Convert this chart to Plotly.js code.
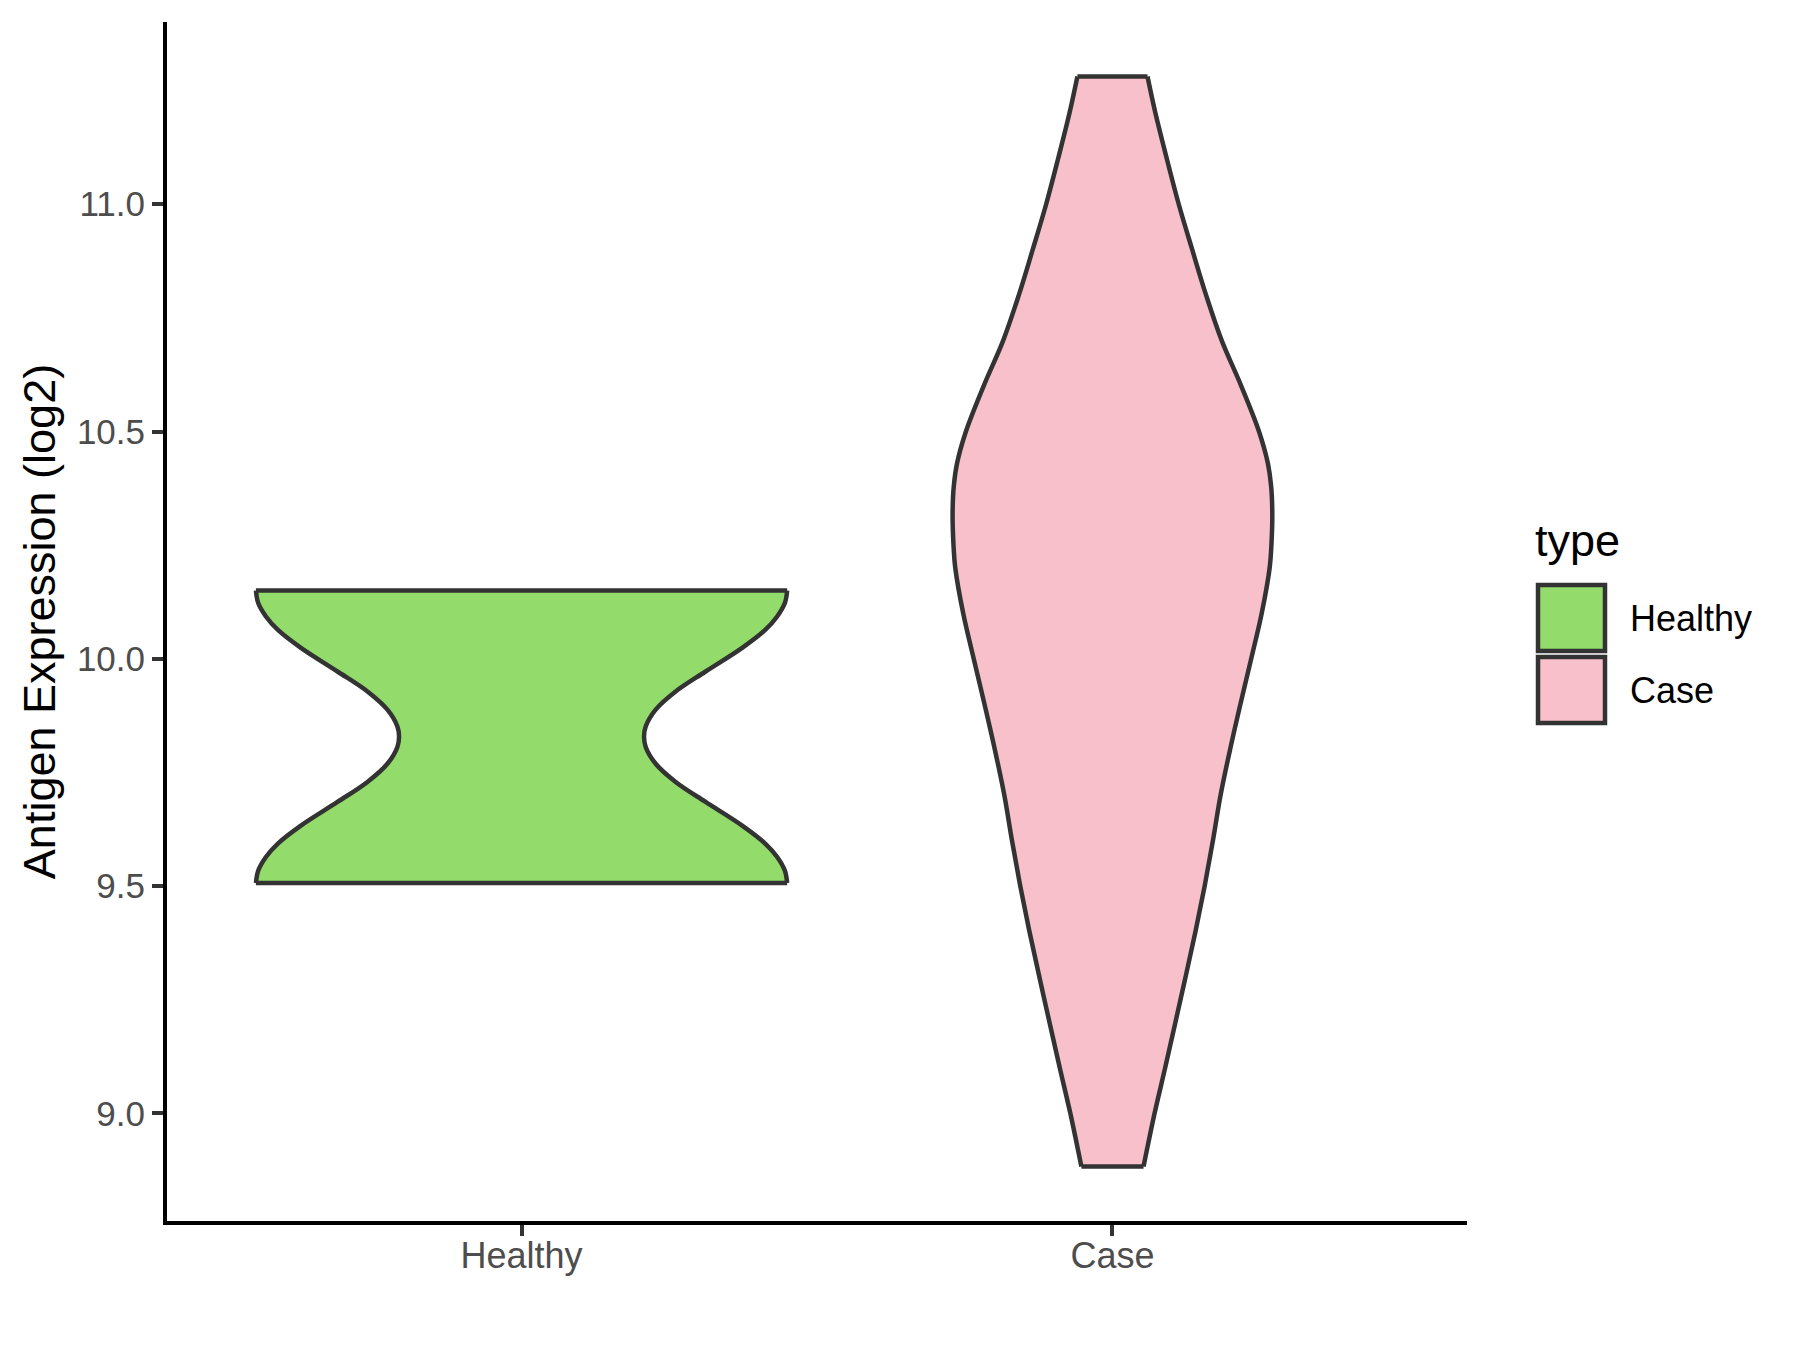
<!DOCTYPE html>
<html>
<head>
<meta charset="utf-8">
<script src="https://cdn.plot.ly/plotly-3.0.1.min.js"></script>
<style>html,body{margin:0;padding:0;background:#fff;}#chart{width:1800px;height:1350px;}</style>
</head>
<body>
<div id="chart"></div>
<script>
// Categories and labels
const categories = ["Healthy", "Case"];
const groupColors = ["#93DB6A", "#F7C0CB"];
const legendTitle = "type";
const yTitle = "Antigen Expression (log2)";
const yTickVals = [9.0, 9.5, 10.0, 10.5, 11.0];
const yTickText = ["9.0", "9.5", "10.0", "10.5", "11.0"];

// Violin outlines: value (log2) and half-width (in category units)
const healthyY = [10.150, 10.1225, 10.093, 10.064, 10.024, 9.972, 9.928, 9.888, 9.851, 9.829,
                  9.806, 9.769, 9.729, 9.685, 9.633, 9.593, 9.564, 9.534, 9.5065];
const healthyHalfWidth = [0.4495, 0.4456, 0.4326, 0.4128, 0.3734, 0.3115, 0.2608, 0.2270, 0.2101, 0.2073,
                          0.2101, 0.2270, 0.2608, 0.3115, 0.3734, 0.4128, 0.4326, 0.4456, 0.4495];

const caseY = [11.281, 11.20, 11.10, 11.00, 10.90, 10.80, 10.70, 10.60, 10.50, 10.43, 10.38, 10.32, 10.25,
               10.20, 10.10, 10.00, 9.90, 9.80, 9.70, 9.60, 9.50, 9.40, 9.30, 9.20, 9.10, 9.00, 8.883];
const caseHalfWidth = [0.0593, 0.0728, 0.0920, 0.1122, 0.1350, 0.1585, 0.1850, 0.2180, 0.2480, 0.2630, 0.2685,
                       0.2705, 0.2690, 0.2660, 0.2526, 0.2348, 0.2165, 0.1990, 0.1830, 0.1700, 0.1560, 0.1405,
                       0.1237, 0.1065, 0.0892, 0.0713, 0.0526];

const outline = "#333333";
const lw = 4.5;
const axisLw = 4;
const font = "Liberation Sans, Arial, Helvetica, sans-serif";

function violinTraces(pos, ys, hws, color) {
  const left = hws.map(w => pos - w);
  const right = hws.map(w => pos + w);
  const n = ys.length;
  return [
    {type: "scatter", mode: "lines", x: left, y: ys,
     line: {color: outline, width: lw, shape: "spline"}, showlegend: false, hoverinfo: "skip"},
    {type: "scatter", mode: "lines", x: right, y: ys, fill: "tonextx", fillcolor: color,
     line: {color: outline, width: lw, shape: "spline"}, showlegend: false, hoverinfo: "skip"},
    {type: "scatter", mode: "lines",
     x: [left[0], right[0], null, left[n - 1], right[n - 1]],
     y: [ys[0], ys[0], null, ys[n - 1], ys[n - 1]],
     line: {color: outline, width: lw}, showlegend: false, hoverinfo: "skip"}
  ];
}

const traces = [].concat(
  violinTraces(1, healthyY, healthyHalfWidth, groupColors[0]),
  violinTraces(2, caseY, caseHalfWidth, groupColors[1])
);

// pixel helpers for the hand-made legend (layout only)
const L = 167, R = 1467, T = 22, B = 1221;
const px = v => (v - L) / (R - L);
const py = v => (B - v) / (B - T);

const shapes = [
  {type: "rect", xref: "paper", yref: "paper", x0: px(1538), x1: px(1605), y0: py(585), y1: py(651),
   fillcolor: groupColors[0], line: {color: outline, width: lw}},
  {type: "rect", xref: "paper", yref: "paper", x0: px(1538), x1: px(1605), y0: py(657), y1: py(723),
   fillcolor: groupColors[1], line: {color: outline, width: lw}}
];

const annotations = [
  {xref: "paper", yref: "paper", x: px(1533), y: py(540), xanchor: "left", yanchor: "middle",
   text: legendTitle, showarrow: false, font: {family: font, size: 45, color: "#000000"}},
  {xref: "paper", yref: "paper", x: px(1628), y: py(618), xanchor: "left", yanchor: "middle",
   text: categories[0], showarrow: false, font: {family: font, size: 36, color: "#000000"}},
  {xref: "paper", yref: "paper", x: px(1628), y: py(690), xanchor: "left", yanchor: "middle",
   text: categories[1], showarrow: false, font: {family: font, size: 36, color: "#000000"}}
];

const layout = {
  width: 1800, height: 1350,
  margin: {l: L, r: 1800 - R, t: T, b: 1350 - B, pad: 0},
  paper_bgcolor: "#ffffff", plot_bgcolor: "#ffffff",
  font: {family: font},
  showlegend: false,
  xaxis: {
    range: [0.4, 2.6], tickvals: [1, 2], ticktext: categories,
    showgrid: false, zeroline: false,
    showline: true, linecolor: "#000000", linewidth: axisLw,
    ticks: "outside", ticklen: 11, tickwidth: axisLw, tickcolor: outline,
    tickfont: {family: font, size: 36, color: "#4D4D4D"},
    ticklabelstandoff: -11,
    automargin: false, fixedrange: true
  },
  yaxis: {
    range: [8.7631, 11.4009], tickvals: yTickVals, ticktext: yTickText,
    showgrid: false, zeroline: false,
    showline: true, linecolor: "#000000", linewidth: axisLw,
    ticks: "outside", ticklen: 11, tickwidth: axisLw, tickcolor: outline,
    tickfont: {family: font, size: 35, color: "#4D4D4D"},
    title: {text: yTitle, font: {family: font, size: 45, color: "#000000"}, standoff: 8},
    automargin: false, fixedrange: true
  },
  shapes: shapes,
  annotations: annotations
};

Plotly.newPlot("chart", traces, layout, {staticPlot: true, displayModeBar: false});
</script>
</body>
</html>
